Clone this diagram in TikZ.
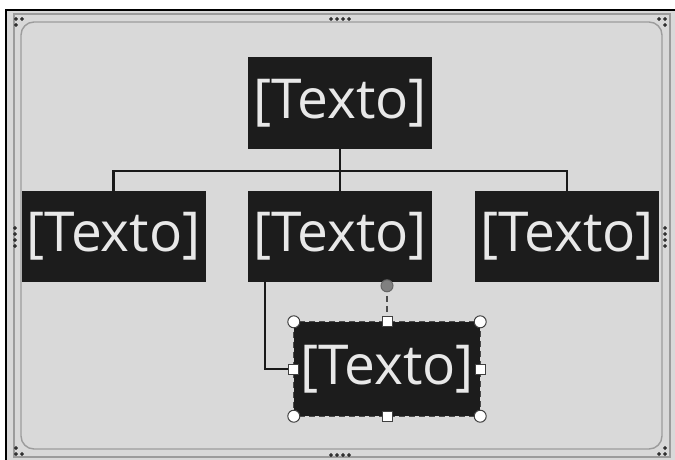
\documentclass[tikz,border=0pt]{standalone}
\usepackage{fontspec}
\setmainfont{Open Sans}
\definecolor{canvas}{HTML}{D9D9D9}
\definecolor{framegray}{HTML}{9C9C9C}
\definecolor{boxfill}{HTML}{1C1C1C}
\definecolor{boxtext}{HTML}{E8E8E8}
\definecolor{knobgray}{HTML}{808080}
\tikzset{
  textbox/.style={fill=boxfill, text=boxtext, minimum width=184pt, minimum height=91pt,
    inner sep=0pt, font=\fontsize{55}{55}\selectfont},
  link/.style={draw=black!90, line width=2.2pt},
  knob/.style={fill=white, draw=black!75, line width=1pt},
  selline/.style={draw=black!70, line width=1.2pt, dash pattern=on 6pt off 4pt},
  grip/.style={fill=black!65},
}
\begin{document}
\begin{tikzpicture}[x=1pt, y=-1pt]
    \useasboundingbox (0,0) rectangle (675,460);
    % drawing area
    \fill[white] (0,0) rectangle (675,460);
    \fill[canvas] (7,11) rectangle (675,460);
    \draw[black, line width=2.5pt] (6,460) -- (6,10) -- (675,10);
    \draw[framegray, line width=1.2pt] (14,14) rectangle (670,457);
    \draw[framegray, line width=1.4pt, rounded corners=13pt] (21,22) rectangle (662,449);
    % grips on the frame
    \foreach \x in {331,337,343,349} {
        \filldraw[grip] (\x,19) circle (1.5pt);
        \filldraw[grip] (\x,455) circle (1.5pt);
    }
    \foreach \y in {228,234,240,246} {
        \filldraw[grip] (15,\y) circle (1.5pt);
        \filldraw[grip] (665,\y) circle (1.5pt);
    }
    \foreach \x/\y in {16/19,22/19,16/25, 659/19,665/19,665/25,
                       16/448,16/454,22/454, 665/448,659/454,665/454}
        \filldraw[grip] (\x,\y) circle (1.5pt);
    % boxes
    \node[textbox] (top) at (340,103) {[Texto]};
    \node[textbox] (left) at (113.5,236.5) {[Texto]};
    \node[textbox] (mid) at (340,236.5) {[Texto]};
    \node[textbox] (right) at (567,236.5) {[Texto]};
    \node[textbox, minimum width=186pt, minimum height=94pt] (sub) at (387,369) {[Texto]};
    \coordinate (bus) at (340,171);
    % connectors
    \draw[link] (top.south) -- (mid.north);
    \draw[link] (left.north) |- (bus) -| (right.north);
    \draw[link] ([xshift=17pt]mid.south west) |- (sub.west);
    % selection
    \draw[selline] (sub.north west) rectangle (sub.south east);
    \coordinate (rot) at ([yshift=36pt]sub.north);
    \draw[selline] (rot) -- (sub.north);
    \filldraw[fill=knobgray, draw=black!60, line width=1pt] (rot) circle (6pt);
    \foreach \c in {north west, north east, south west, south east}
        \filldraw[knob] (sub.\c) circle (6pt);
    \foreach \c in {north, south, west, east}
        \filldraw[knob] ([shift={(-5,-5)}]sub.\c) rectangle ([shift={(5,5)}]sub.\c);
\end{tikzpicture}
\end{document}
